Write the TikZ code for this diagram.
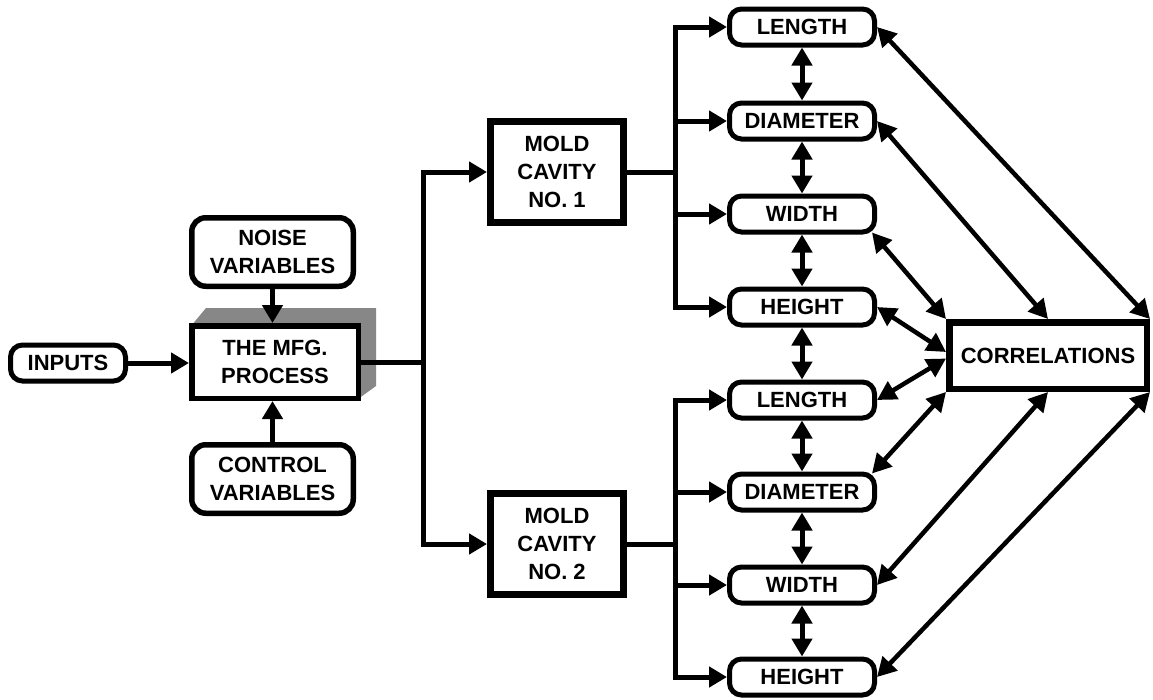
\documentclass[tikz,border=0pt]{standalone}
\usepackage{fontspec}
\setmainfont{Liberation Sans}
\usetikzlibrary{arrows.meta,calc}
\definecolor{shadowgray}{HTML}{878787}
\begin{document}
\begin{tikzpicture}[x=1pt,y=-1pt,
  lbl/.style={font=\bfseries\fontsize{22}{28}\selectfont, align=center, inner sep=0pt},
  rbox/.style={lbl, draw, fill=white, line width=5pt, rounded corners=12pt, minimum width=145pt, minimum height=36pt},
  bigr/.style={lbl, draw, fill=white, line width=5.5pt, rounded corners=14pt, minimum width=161.5pt, minimum height=68.5pt},
  mfgbox/.style={lbl, draw, fill=white, line width=5.5pt, minimum width=166.5pt, minimum height=72.5pt},
  moldbox/.style={lbl, draw, fill=white, line width=7pt, minimum width=133pt, minimum height=101pt},
  corrbox/.style={lbl, draw, fill=white, line width=6.5pt, minimum width=197.5pt, minimum height=66.5pt},
  conn/.style={line width=5pt},
  arr/.style={line width=5pt, -{Triangle[length=18pt,width=20pt]}},
  varr/.style={line width=5pt, {Triangle[length=18pt,width=20pt]}-{Triangle[length=18pt,width=20pt]}},
  darr/.style={line width=4.5pt, {Triangle[length=19pt,width=20pt]}-{Triangle[length=19pt,width=20pt]}}
]
\useasboundingbox (0,0) rectangle (1153,699);

% shadow of the process box
\fill[shadowgray] (191,326) -- (206,308) -- (376,308) -- (376,386) -- (358,399) -- cycle;

\node[rbox, minimum width=115pt] (inputs) at (68,363) {INPUTS};
\node[bigr] (noise) at (272.5,252) {NOISE\\VARIABLES};
\node[mfgbox] (mfg) at (275,362) {THE MFG.\\PROCESS};
\node[bigr] (control) at (272.5,479) {CONTROL\\VARIABLES};

\node[moldbox] (mold1) at (557,172) {MOLD\\CAVITY\\NO. 1};
\node[moldbox] (mold2) at (557,544) {MOLD\\CAVITY\\NO. 2};

\node[rbox] (L1) at (802,27) {LENGTH};
\node[rbox] (D1) at (802,121) {DIAMETER};
\node[rbox] (W1) at (802,214) {WIDTH};
\node[rbox] (H1) at (802,307) {HEIGHT};
\node[rbox] (L2) at (802,400) {LENGTH};
\node[rbox] (D2) at (802,492) {DIAMETER};
\node[rbox] (W2) at (802,585) {WIDTH};
\node[rbox] (H2) at (802,677) {HEIGHT};

\node[corrbox] (corr) at (1048,355.5) {CORRELATIONS};

\coordinate (busA) at (423,362);
\coordinate (busB) at (675,172);
\coordinate (busC) at (675,544);

% left part
\draw[arr] (inputs) -- (inputs -| mfg.west);
\draw[arr] (noise.south) -- (noise.south |- mfg.north);
\draw[arr] (control.north) -- (control.north |- mfg.south);
\draw[conn] (mfg.east) -- (busA);
\draw[arr] (busA) |- (mold1);
\draw[arr] (busA) |- (mold2);

% buses to measurements
\draw[conn] (mold1.east) -- (mold1.east -| busB);
\draw[arr] (busB) |- (L1);
\draw[arr] (busB) |- (D1);
\draw[arr] (busB) |- (W1);
\draw[arr] (busB) |- (H1);
\draw[conn] (mold2.east) -- (mold2.east -| busC);
\draw[arr] (busC) |- (L2);
\draw[arr] (busC) |- (D2);
\draw[arr] (busC) |- (W2);
\draw[arr] (busC) |- (H2);

% vertical double arrows
\draw[varr] (L1.south) -- (D1.north);
\draw[varr] (D1.south) -- (W1.north);
\draw[varr] (W1.south) -- (H1.north);
\draw[varr] (H1.south) -- (L2.north);
\draw[varr] (L2.south) -- (D2.north);
\draw[varr] (D2.south) -- (W2.north);
\draw[varr] (W2.south) -- (H2.north);

% correlations
\draw[darr] (L1.east) -- (corr.north east);
\draw[darr] (D1.east) -- (corr.north);
\draw[darr] ($(W1.south east)+(-5,-2)$) -- (corr.north west);
\draw[darr] (H1.east) -- ($(corr.west)+(0,-3.5)$);
\draw[darr] (L2.east) -- ($(corr.west)+(0,3)$);
\draw[darr] ($(D2.north east)+(-5,2)$) -- (corr.south west);
\draw[darr] (W2.east) -- (corr.south);
\draw[darr] (H2.east) -- (corr.south east);
\end{tikzpicture}
\end{document}
